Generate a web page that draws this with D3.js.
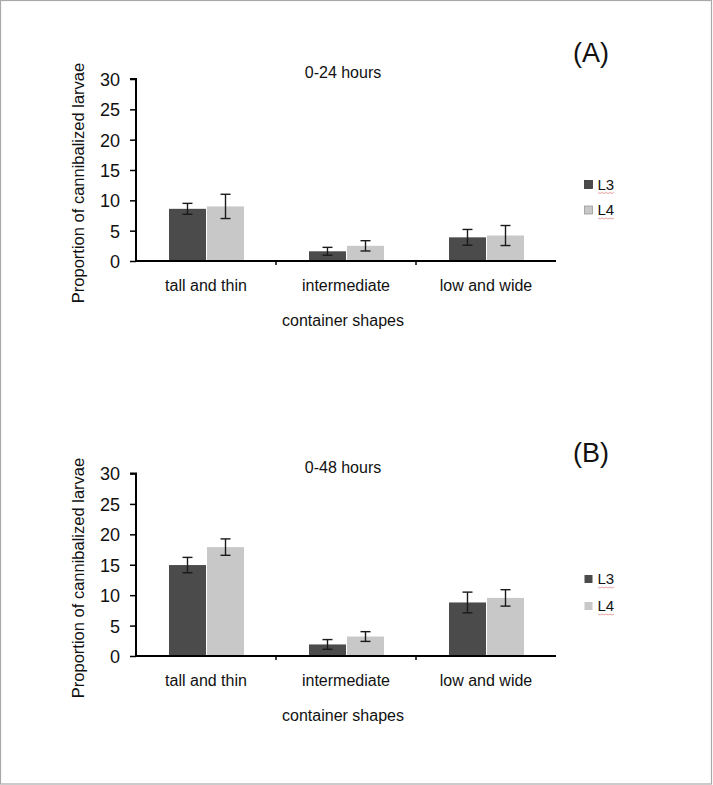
<!DOCTYPE html>
<html>
<head>
<meta charset="utf-8">
<script src="https://cdn.jsdelivr.net/npm/d3@7"></script>
<style>
  html, body { margin: 0; padding: 0; background: #fff; }
  svg { display: block; }
  text { font-family: "Liberation Sans", Arial, sans-serif; fill: #111; }
</style>
</head>
<body>
<script>
// ---- data ----
const categories = ["tall and thin", "intermediate", "low and wide"];
const seriesNames = ["L3", "L4"];
const yTicks = [0, 5, 10, 15, 20, 25, 30];

// Panel A: 0-24 hours
const a_L3 = [8.6, 1.6, 3.9];
const a_L3_err = [0.9, 0.65, 1.3];
const a_L4 = [9.0, 2.5, 4.2];
const a_L4_err = [2.0, 0.85, 1.65];

// Panel B: 0-48 hours
const b_L3 = [14.95, 1.9, 8.8];
const b_L3_err = [1.26, 0.8, 1.7];
const b_L4 = [17.9, 3.2, 9.55];
const b_L4_err = [1.35, 0.8, 1.35];

const colors = { L3: "#4b4b4b", L4: "#c8c8c8" };

const W = 713, H = 785;
const svg = d3.select("body").append("svg").attr("width", W).attr("height", H);

// outer frame
svg.append("rect").attr("x", 0.5).attr("y", 0.5).attr("width", 711).attr("height", 783.5)
  .attr("fill", "none").attr("stroke", "#a8a8a8").attr("stroke-width", 1.2);

function drawPanel(opt) {
  const g = svg.append("g");
  const x0 = d3.scaleBand().domain(categories).range([136, 556]).padding(0);
  const x1 = d3.scaleBand().domain(seriesNames).range([33, 108]).paddingInner(0.027);
  const y = d3.scaleLinear().domain([0, 30]).range([opt.yBase, opt.yTop]);

  const rows = [];
  categories.forEach((c, i) => {
    rows.push({ cat: c, s: "L3", v: opt.L3[i], e: opt.L3e[i] });
    rows.push({ cat: c, s: "L4", v: opt.L4[i], e: opt.L4e[i] });
  });

  // bars
  g.selectAll("rect.bar").data(rows).enter().append("rect")
    .attr("class", "bar")
    .attr("x", d => x0(d.cat) + x1(d.s))
    .attr("width", x1.bandwidth())
    .attr("y", d => y(d.v))
    .attr("height", d => y(0) - y(d.v))
    .attr("fill", d => colors[d.s]);

  // error bars
  const eb = g.selectAll("g.err").data(rows).enter().append("g").attr("class", "err")
    .attr("stroke", "#1a1a1a").attr("stroke-width", 1.4);
  eb.append("line")
    .attr("x1", d => x0(d.cat) + x1(d.s) + x1.bandwidth() / 2)
    .attr("x2", d => x0(d.cat) + x1(d.s) + x1.bandwidth() / 2)
    .attr("y1", d => y(d.v - d.e)).attr("y2", d => y(d.v + d.e));
  [-1, 1].forEach(sg => {
    eb.append("line")
      .attr("x1", d => x0(d.cat) + x1(d.s) + x1.bandwidth() / 2 - 5)
      .attr("x2", d => x0(d.cat) + x1(d.s) + x1.bandwidth() / 2 + 5)
      .attr("y1", d => y(d.v + sg * d.e)).attr("y2", d => y(d.v + sg * d.e));
  });

  // y axis
  const yAxis = d3.axisLeft(y).tickValues(yTicks).tickSize(6).tickPadding(10).tickFormat(d3.format("d"));
  const ya = g.append("g").attr("transform", "translate(136,0)").call(yAxis);
  ya.select(".domain").attr("stroke", "#000").attr("stroke-width", 2).attr("d", `M-6,${y(30)}H0V${y(0)}`);
  ya.selectAll(".tick line").attr("stroke", "#000").attr("stroke-width", 1.5);
  ya.selectAll(".tick text").style("font-family", '"Liberation Sans", Arial, sans-serif')
    .attr("font-size", 18).attr("fill", "#111").attr("dy", "0.36em");

  // x axis
  const xa = g.append("g").attr("transform", `translate(0,${y(0)})`);
  xa.append("line").attr("x1", 136).attr("x2", 556).attr("y1", 0).attr("y2", 0)
    .attr("stroke", "#000").attr("stroke-width", 2);
  categories.slice(1).forEach(c => {
    xa.append("line").attr("x1", x0(c)).attr("x2", x0(c)).attr("y1", 0).attr("y2", 4)
      .attr("stroke", "#000").attr("stroke-width", 1.5);
  });
  xa.selectAll("text.cat").data(categories).enter().append("text")
    .attr("class", "cat")
    .attr("x", d => x0(d) + x0.bandwidth() / 2)
    .attr("y", 30)
    .attr("text-anchor", "middle").attr("font-size", 16).text(d => d);

  // axis title
  g.append("text").attr("x", 343).attr("y", y(0) + 65).attr("text-anchor", "middle")
    .attr("font-size", 16).text("container shapes");
  g.append("text")
    .attr("transform", `translate(84,${opt.yLabelCenter}) rotate(-90)`)
    .attr("text-anchor", "middle").attr("font-size", 16.5).text("Proportion of cannibalized larvae");

  // title
  g.append("text").attr("x", 343).attr("y", opt.titleY).attr("text-anchor", "middle")
    .attr("font-size", 16).text(opt.title);

  // panel letter
  g.append("text").attr("x", 591).attr("y", opt.letterY).attr("text-anchor", "middle")
    .attr("font-size", 27).text(opt.letter);

  // legend
  seriesNames.forEach((s, i) => {
    const ly = opt.legendY[i];
    g.append("rect").attr("x", 584.5).attr("y", ly - 9).attr("width", 8).attr("height", 8)
      .attr("fill", colors[s])
      .attr("stroke", opt.legendStroke ? (s === "L3" ? "#333" : "#999") : "none")
      .attr("stroke-width", 0.8);
    g.append("text").attr("x", 597.5).attr("y", ly).attr("font-size", 15).text(s);
    // spell-check squiggle under the legend label
    let p = `M598,${ly + 3}`;
    for (let k = 0; k < 8; k++) p += `l2,${k % 2 ? -1 : 1}`;
    g.append("path").attr("d", p).attr("fill", "none").attr("stroke", "#e08a8a").attr("stroke-width", 0.8);
  });
}

drawPanel({
  L3: a_L3, L3e: a_L3_err, L4: a_L4, L4e: a_L4_err,
  yBase: 261, yTop: 79, yLabelCenter: 183, titleY: 78, title: "0-24 hours",
  letter: "(A)", letterY: 62, legendY: [189.5, 215], legendStroke: true
});
drawPanel({
  L3: b_L3, L3e: b_L3_err, L4: b_L4, L4e: b_L4_err,
  yBase: 656, yTop: 473.5, yLabelCenter: 578, titleY: 472.5, title: "0-48 hours",
  letter: "(B)", letterY: 462, legendY: [584, 611], legendStroke: false
});
</script>
</body>
</html>
